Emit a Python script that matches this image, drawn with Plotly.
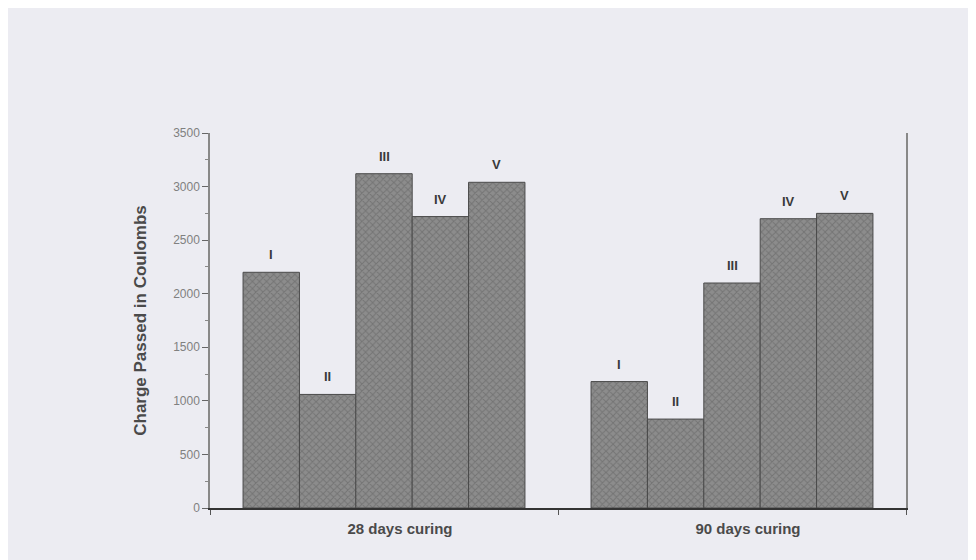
import plotly.graph_objects as go

categories = ["28 days curing", "90 days curing"]
series_names = ["I", "II", "III", "IV", "V"]
values_28 = [2200, 1060, 3120, 2720, 3040]
values_90 = [1180, 830, 2100, 2700, 2750]
y_ticks = [0, 500, 1000, 1500, 2000, 2500, 3000, 3500]

BARGAP = 0.19
FONT = "Liberation Sans, Arial, sans-serif"

fig = go.Figure()
for i, name in enumerate(series_names):
    fig.add_trace(go.Bar(
        x=categories,
        y=[values_28[i], values_90[i]],
        name=name,
        marker=dict(
            color="#808080",
            line=dict(color="#4a4a4a", width=1),
            pattern=dict(shape="x", fgcolor="#5c5c5c", bgcolor="#8c8c8c", size=5, solidity=0.35),
        ),
        showlegend=False,
    ))

# labels above each bar, placed at the grouped-bar offsets
n = len(series_names)
bw = (1 - BARGAP) / n
for ci, vals in enumerate([values_28, values_90]):
    for i, name in enumerate(series_names):
        fig.add_annotation(
            x=ci - (1 - BARGAP) / 2 + bw * (i + 0.5), y=vals[i],
            xref="x", yref="y", text="<b>" + name + "</b>", showarrow=False,
            yanchor="bottom", yshift=8,
            font=dict(family=FONT, size=13, color="#3a3a3a"),
        )

fig.update_layout(
    width=968, height=552,
    margin=dict(l=202, r=70, t=125, b=52),
    paper_bgcolor="#ececf2",
    plot_bgcolor="#ececf2",
    barmode="group",
    bargap=BARGAP,
    bargroupgap=0,
    font=dict(family=FONT, color="#555555"),
    xaxis=dict(
        type="category",
        showline=True, linecolor="#333333", linewidth=2,
        ticks="outside", tickson="boundaries", ticklen=5, tickcolor="#555555",
        showgrid=False, zeroline=False,
        ticklabelshift=16, ticklabelstandoff=6,
        tickfont=dict(size=15, color="#4a4a4a", weight="bold"),
    ),
    yaxis=dict(
        range=[0, 3500],
        tickvals=y_ticks,
        showline=True, linecolor="#888888", linewidth=1.5, mirror=True,
        ticks="outside", ticklen=6, tickcolor="#666666",
        minor=dict(dtick=250, ticks="outside", ticklen=3, tickcolor="#888888"),
        showgrid=False, zeroline=False,
        tickfont=dict(size=12, color="#808080"),
        title=dict(text="<b>Charge Passed in Coulombs</b>", standoff=22,
                   font=dict(size=17, color="#4a4a4a")),
    ),
)

fig.write_html("out.html")
